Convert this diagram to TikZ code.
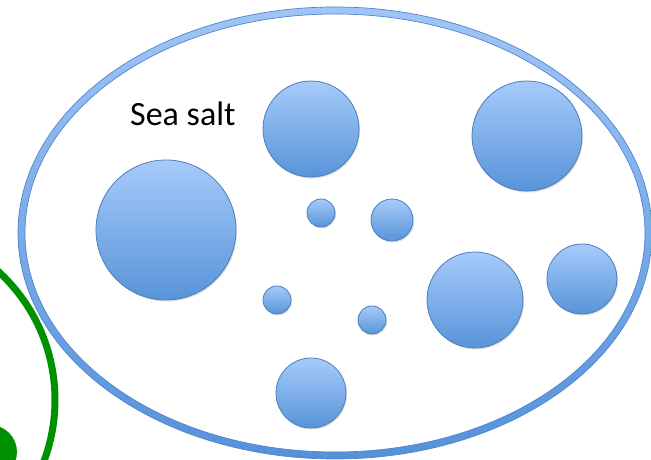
\documentclass[tikz,border=0pt]{standalone}
\usepackage{fontspec}
\setmainfont{Carlito}
\usetikzlibrary{shadows}
\definecolor{saltTop}{HTML}{A6CBFA}
\definecolor{saltBot}{HTML}{5894D9}
\definecolor{saltEdge}{HTML}{4A7EBB}
\definecolor{ringTop}{HTML}{A0C5F6}
\definecolor{ringBot}{HTML}{5591DA}
\definecolor{ringEdge}{HTML}{4F86CC}
\definecolor{cellGreen}{RGB}{0,145,0}
\tikzset{
  salt/.style={top color=saltTop,bottom color=saltBot,draw=saltEdge,line width=0.8pt,
    drop shadow={shadow xshift=1pt,shadow yshift=-1.5pt,opacity=0.25}},
}
\begin{document}
\begin{tikzpicture}[x=1pt,y=1pt]
  \useasboundingbox (0,0) rectangle (651,460);
  \clip (0,0) rectangle (651,460);
  % green cell at the left edge
  \draw[cellGreen,line width=7] (-119,60) circle (174);
  \fill[cellGreen] (-10,8) circle (27);
  % outer ellipse (ring with vertical gradient)
  \coordinate (c) at (335,227);
  \shade[top color=ringTop,bottom color=ringBot,even odd rule]
    (c) ellipse [x radius=317,y radius=226] (c) ellipse [x radius=310,y radius=219];
  \draw[ringEdge,line width=0.7] (c) ellipse [x radius=317,y radius=226];
  \draw[ringEdge,line width=0.7] (c) ellipse [x radius=310,y radius=219];
  % label
  \node[anchor=base west,inner sep=0,font=\fontsize{34}{40}\selectfont] (label) at (130,334) {Sea salt};
  % salt particles: x, y, radius
  \foreach \x/\y/\r in {166/230/70, 311/331/48, 527/324/55, 321/247/14, 392/240/21,
                        475/160/48, 582/181/35, 277/160/14, 372/140/14, 311/67/35}
    \shade[salt] (\x,\y) circle (\r);
\end{tikzpicture}
\end{document}
